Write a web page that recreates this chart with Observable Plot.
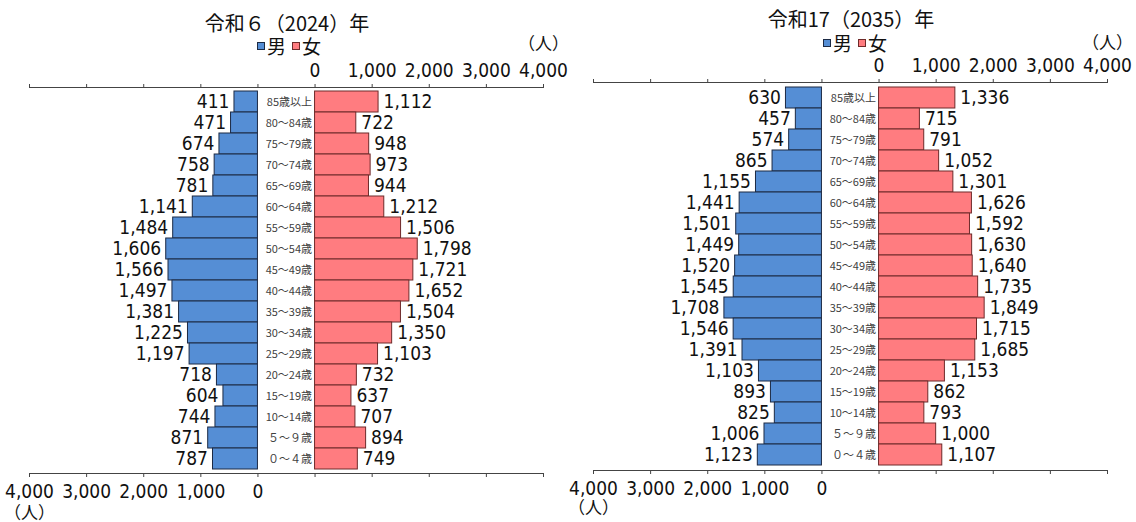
<!DOCTYPE html>
<html><head><meta charset="utf-8">
<script src="https://cdn.jsdelivr.net/npm/d3@7"></script>
<script src="https://cdn.jsdelivr.net/npm/@observablehq/plot@0.6"></script>
<style>
body{margin:0;background:#fff;}
#wrap{position:relative;width:1136px;height:522px;overflow:hidden;font-family:"Noto Sans CJK JP",sans-serif;color:#111;background:#fff;}
.panel{position:absolute;top:0;z-index:1;}
.title{position:absolute;z-index:2;width:300px;text-align:center;font-size:20px;line-height:24px;white-space:nowrap;}
.legend{position:absolute;z-index:2;display:flex;align-items:center;font-size:19px;line-height:20px;white-space:nowrap;}
.sw{display:inline-block;width:6px;height:6px;border:1px solid #222;margin-right:2px;}
</style>
</head><body>
<div id="wrap">
  <div class="panel" id="left" style="left:0px;"></div>
  <div class="panel" id="right" style="left:570px;"></div>
  <div class="title" style="left:137px;top:11px;">令和６（2024）年</div>
  <div class="legend" style="left:257px;top:36px;"><span class="sw" style="background:#558ed5;border-color:#1c2a44"></span>男<span class="sw" style="background:#ff7c80;border-color:#6e2a2a;margin-left:6px"></span>女</div>
  <div class="title" style="left:701px;top:7px;">令和17（2035）年</div>
  <div class="legend" style="left:823px;top:33px;"><span class="sw" style="background:#558ed5;border-color:#1c2a44"></span>男<span class="sw" style="background:#ff7c80;border-color:#6e2a2a;margin-left:6px"></span>女</div>
</div>
<script>
const ages = ["85歳以上","80～84歳","75～79歳","70～74歳","65～69歳","60～64歳","55～59歳","50～54歳","45～49歳","40～44歳","35～39歳","30～34歳","25～29歳","20～24歳","15～19歳","10～14歳","５～９歳","０～４歳"];
const male2024   = [411,471,674,758,781,1141,1484,1606,1566,1497,1381,1225,1197,718,604,744,871,787];
const female2024 = [1112,722,948,973,944,1212,1506,1798,1721,1652,1504,1350,1103,732,637,707,894,749];
const male2035   = [630,457,574,865,1155,1441,1501,1449,1520,1545,1708,1546,1391,1103,893,825,1006,1123];
const female2035 = [1336,715,791,1052,1301,1626,1592,1630,1640,1735,1849,1715,1685,1153,862,793,1000,1107];
const axisTicks = [0,1000,2000,3000,4000];
const unitLabel = "（人）";

const GAP = 1000; // width of the central age-label column, in value units
const fmt = d3.format(",");
const numFont = '"Liberation Sans Narrow","DejaVu Sans Condensed",Roboto,sans-serif';
const cjkFont = '"Noto Sans CJK JP",sans-serif';
const maleFill = "#558ed5", maleStroke = "#1c2a44";
const femFill = "#ff7c80", femStroke = "#6e2a2a";

function pyramid(male, female, o) {
  const rows = ages.map((age, i) => ({age, male: male[i], female: female[i]}));
  const maxV = d3.max(axisTicks);
  const allTicks = [...axisTicks.map(t => -GAP - t), ...axisTicks].sort((a,b)=>a-b);
  return Plot.plot({
    width: o.width, height: 522,
    marginLeft: o.ml, marginRight: o.mr, marginTop: o.mt, marginBottom: o.mb,
    x: {domain: [-GAP - maxV, maxV], axis: null, label: null},
    y: {domain: ages, padding: 0, axis: null, label: null},
    style: {fontFamily: numFont, fontSize: "19px", color: "#111", background: "transparent", overflow: "visible"},
    marks: [
      Plot.barX(rows, {y: "age", x1: () => -GAP, x2: d => -GAP - d.male, fill: maleFill, stroke: maleStroke, strokeWidth: 1}),
      Plot.barX(rows, {y: "age", x1: () => 0, x2: d => d.female, fill: femFill, stroke: femStroke, strokeWidth: 1}),
      Plot.text(rows, {y: "age", x: d => -GAP - d.male, text: d => fmt(d.male), textAnchor: "end", dx: -5, fill: "#111"}),
      Plot.text(rows, {y: "age", x: d => d.female, text: d => fmt(d.female), textAnchor: "start", dx: 5, fill: "#111"}),
      Plot.text(rows, {y: "age", x: () => 0, text: "age", textAnchor: "end", dx: -3, fontSize: 11, fontFamily: cjkFont, fill: "#404040"}),
      Plot.frame({anchor: "top", stroke: "#444"}),
      Plot.frame({anchor: "bottom", stroke: "#444"}),
      Plot.axisX({anchor: "top", ticks: allTicks, tickSize: 4, tickPadding: 7, stroke: "#444", label: null,
        tickFormat: d => d >= 0 ? fmt(d) : ""}),
      Plot.axisX({anchor: "bottom", ticks: allTicks, tickSize: 4, tickPadding: 7, stroke: "#444", label: null,
        tickFormat: d => d <= -GAP ? fmt(-d - GAP) : ""}),
      Plot.text([unitLabel], {x: () => maxV, frameAnchor: "top", dy: o.unitTop, text: d => d, fontFamily: cjkFont, fontSize: 17}),
      Plot.text([unitLabel], {x: () => -GAP - maxV, frameAnchor: "bottom", dy: o.unitBottom, text: d => d, fontFamily: cjkFont, fontSize: 17})
    ]
  });
}

document.getElementById("left").append(pyramid(male2024, female2024, {width: 570, ml: 29, mr: 27, mt: 87, mb: 49, unitTop: -50, unitBottom: 45}));
document.getElementById("right").append(pyramid(male2035, female2035, {width: 566, ml: 23, mr: 29, mt: 82, mb: 52, unitTop: -46, unitBottom: 43}));
</script>
</body></html>
